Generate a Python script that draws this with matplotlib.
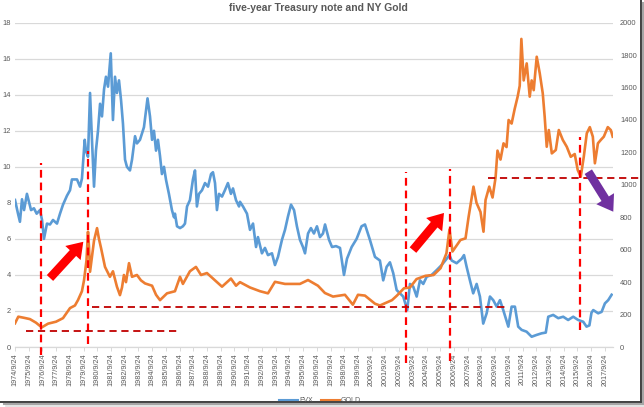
import matplotlib
matplotlib.use("Agg")
import matplotlib.pyplot as plt
from matplotlib.lines import Line2D
from matplotlib.patches import FancyArrowPatch

# ---------------- data ----------------
fvx_year = [1974.73, 1974.95, 1975.09, 1975.24, 1975.39, 1975.60, 1975.75, 1975.90,
            1976.11, 1976.31, 1976.55, 1976.70, 1976.84, 1977.06, 1977.28, 1977.50,
            1977.79, 1978.01, 1978.23, 1978.52, 1978.74, 1978.88, 1979.25, 1979.47,
            1979.61, 1979.81, 1979.90, 1980.05, 1980.20, 1980.34, 1980.49, 1980.63,
            1980.78, 1980.93, 1981.07, 1981.22, 1981.36, 1981.51, 1981.71, 1981.87,
            1982.02, 1982.16, 1982.31, 1982.46, 1982.60, 1982.75, 1982.89, 1983.11,
            1983.26, 1983.48, 1983.62, 1983.84, 1984.13, 1984.39, 1984.57, 1984.72,
            1984.86, 1985.01, 1985.15, 1985.30, 1985.44, 1985.59, 1985.74, 1985.95,
            1986.17, 1986.32, 1986.39, 1986.54, 1986.76, 1986.97, 1987.12, 1987.27,
            1987.48, 1987.70, 1987.85, 1987.99, 1988.14, 1988.36, 1988.58, 1988.80,
            1989.02, 1989.16, 1989.31, 1989.45, 1989.60, 1989.82, 1990.03, 1990.25,
            1990.47, 1990.62, 1990.84, 1991.06, 1991.13, 1991.35, 1991.64, 1991.86,
            1992.08, 1992.30, 1992.44, 1992.73, 1992.95, 1993.17, 1993.46, 1993.68,
            1993.90, 1994.19, 1994.41, 1994.63, 1994.85, 1995.07, 1995.28, 1995.50,
            1995.72, 1995.87, 1996.09, 1996.30, 1996.52, 1996.74, 1996.96, 1997.18,
            1997.33, 1997.62, 1997.84, 1998.13, 1998.42, 1998.71, 1998.93, 1999.27,
            1999.63, 1999.99, 2000.24, 2000.60, 2000.97, 2001.33, 2001.57, 2001.82,
            2002.06, 2002.30, 2002.55, 2002.79, 2003.03, 2003.32, 2003.52, 2003.76,
            2004.01, 2004.25, 2004.49, 2004.74, 2005.10, 2005.47, 2005.83, 2006.20,
            2006.40, 2006.56, 2006.92, 2007.29, 2007.46, 2007.65, 2007.89, 2008.13,
            2008.38, 2008.62, 2008.86, 2009.11, 2009.35, 2009.59, 2009.84, 2010.08,
            2010.32, 2010.69, 2010.93, 2011.17, 2011.41, 2011.66, 2012.02, 2012.39,
            2012.75, 2013.12, 2013.42, 2013.60, 2013.96, 2014.33, 2014.69, 2015.05,
            2015.42, 2015.78, 2016.15, 2016.39, 2016.60, 2016.75, 2016.88, 2017.24,
            2017.49, 2017.73, 2017.97, 2018.22]
fvx_value = [8.16, 7.4, 6.95, 8.2, 7.6, 8.5, 8.06, 7.6,
             7.7, 7.4, 7.6, 7.05, 6.0, 6.85, 6.8, 7.05,
             6.85, 7.4, 7.9, 8.4, 8.7, 9.3, 9.3, 8.9,
             9.35, 11.5, 10.9, 10.56, 14.1, 11.5, 8.9, 10.9,
             12.0, 13.5, 12.8, 14.3, 15.0, 14.45, 16.3, 12.6,
             15.0, 14.1, 14.8, 13.7, 12.4, 10.4, 10.0, 9.8,
             10.4, 11.7, 11.3, 11.5, 12.2, 13.8, 12.8, 11.5,
             12.0, 10.9, 11.5, 10.6, 9.6, 10.0, 9.27, 8.5,
             7.6, 7.2, 7.4, 6.7, 6.6, 6.7, 6.85, 7.8,
             8.15, 9.3, 9.8, 7.8, 8.5, 8.7, 9.1, 8.9,
             9.6, 9.7, 9.1, 7.6, 8.5, 8.35, 8.7, 9.1,
             8.5, 8.8, 8.15, 7.8, 8.06, 7.8, 7.4, 6.5,
             6.85, 5.55, 6.1, 5.2, 5.5, 5.1, 5.2, 4.55,
             5.0, 5.95, 6.5, 7.25, 7.9, 7.6, 6.7, 5.95,
             5.55, 5.2, 6.3, 6.6, 6.3, 6.7, 6.1, 6.3,
             6.8, 5.95, 5.55, 5.6, 5.5, 4.0, 4.9, 5.55,
             6.0, 6.7, 6.8, 5.95, 5.0, 4.8, 3.7, 4.45,
             4.7, 4.1, 3.16, 2.98, 2.8, 2.05, 3.5, 3.35,
             2.8, 3.7, 3.5, 3.9, 4.0, 4.27, 4.55, 4.9,
             5.1, 4.8, 4.65, 4.9, 5.1, 4.45, 3.7, 2.98,
             3.5, 2.8, 1.3, 1.87, 2.8, 2.6, 2.24, 2.6,
             2.05, 1.13, 2.24, 2.24, 1.13, 0.95, 0.85, 0.57,
             0.67, 0.76, 0.8, 1.68, 1.78, 1.6, 1.68, 1.5,
             1.68, 1.5, 1.4, 1.13, 1.2, 1.9, 2.05, 1.87,
             1.95, 2.42, 2.6, 2.9]

gold_year = [1974.73, 1974.97, 1975.39, 1975.82, 1976.26, 1976.68, 1977.14, 1977.72,
             1978.23, 1978.74, 1979.10, 1979.32, 1979.61, 1979.76, 1979.94, 1980.05,
             1980.12, 1980.20, 1980.34, 1980.49, 1980.71, 1980.85, 1981.00, 1981.29,
             1981.65, 1981.87, 1982.16, 1982.38, 1982.53, 1982.67, 1982.82, 1983.04,
             1983.26, 1983.62, 1983.91, 1984.21, 1984.72, 1985.01, 1985.30, 1985.81,
             1986.39, 1986.76, 1986.97, 1987.48, 1987.92, 1988.29, 1988.72, 1989.31,
             1989.82, 1990.18, 1990.47, 1990.84, 1991.13, 1991.86, 1992.59, 1993.17,
             1993.68, 1994.41, 1995.50, 1996.09, 1996.81, 1997.32, 1997.91, 1998.78,
             1999.36, 1999.73, 2000.24, 2000.97, 2001.33, 2002.21, 2002.57, 2003.08,
             2003.52, 2004.00, 2004.65, 2005.24, 2005.75, 2006.18, 2006.40, 2006.62,
             2007.20, 2007.57, 2007.79, 2008.15, 2008.37, 2008.66, 2008.88, 2009.03,
             2009.30, 2009.54, 2009.76, 2009.90, 2010.12, 2010.34, 2010.56, 2010.71,
             2010.93, 2011.15, 2011.37, 2011.52, 2011.64, 2011.81, 2012.03, 2012.25,
             2012.39, 2012.54, 2012.76, 2012.98, 2013.20, 2013.34, 2013.49, 2013.64,
             2013.86, 2014.15, 2014.37, 2014.66, 2014.95, 2015.24, 2015.53, 2015.75,
             2015.97, 2016.19, 2016.41, 2016.63, 2016.85, 2017.00, 2017.22, 2017.43,
             2017.65, 2017.94, 2018.16, 2018.30]
gold_value = [146, 187, 180, 172, 150, 121, 144, 156,
              178, 240, 256, 289, 344, 411, 533, 711,
              622, 464, 556, 656, 733, 667, 611, 494,
              433, 467, 372, 320, 367, 444, 400, 517,
              433, 444, 411, 392, 378, 322, 289, 331,
              344, 433, 389, 467, 494, 444, 456, 411,
              372, 400, 422, 378, 400, 367, 344, 331,
              402, 389, 389, 413, 378, 333, 311, 322,
              261, 322, 317, 267, 256, 289, 317, 362,
              367, 419, 439, 444, 486, 578, 725, 589,
              660, 670, 800, 989, 889, 833, 711, 907,
              989, 922, 1045, 1211, 1156, 1256, 1233, 1400,
              1378, 1467, 1544, 1611, 1900, 1644, 1749, 1544,
              1644, 1584, 1790, 1688, 1564, 1420, 1235, 1338,
              1194, 1215, 1338, 1277, 1235, 1173, 1190, 1091,
              1050, 1173, 1318, 1356, 1297, 1133, 1256, 1277,
              1297, 1356, 1338, 1297]

tick_years = list(range(1974, 2018))
tick_labels = [f"{y}/9/24" for y in tick_years]
series_names = ["FVX", "GOLD"]
title = "five-year Treasury note and NY Gold"

# ---------------- styling ----------------
BLUE = "#5B9BD5"
ORANGE = "#ED7D31"
GRID = "#D9D9D9"
TXT = "#595959"
plt.rcParams["font.family"] = ["Liberation Sans", "DejaVu Sans"]

W, H = 644, 407
fig = plt.figure(figsize=(W / 100, H / 100), dpi=100)
fig.patch.set_facecolor("white")

def fx(px):
    return px / W

def fy(py):
    return 1 - py / H

ax = fig.add_axes([fx(15), fy(347), fx(613) - fx(15), fy(22.7) - fy(347)])
ax2 = ax.twinx()

x0, x1 = 1974.73, 2018.32
ax.set_xlim(x0, x1)
ax.set_ylim(0, 18)
ax2.set_ylim(0, 2000)

ax.set_yticks(range(0, 19, 2))
ax2.set_yticks(range(0, 2001, 200))
ax.yaxis.grid(True, color=GRID, lw=0.9)
ax.set_axisbelow(True)

ax.set_xticks([y + 0.73 for y in tick_years])
ax.set_xticklabels(tick_labels, rotation=90)

for a in (ax, ax2):
    for s in a.spines.values():
        s.set_visible(False)
ax.spines["bottom"].set_visible(True)
ax.spines["bottom"].set_color(GRID)
ax.spines["bottom"].set_linewidth(0.9)
ax.tick_params(axis="x", colors=GRID, length=3, width=0.7, labelcolor=TXT,
               labelsize=5.2, pad=1.5)
ax.tick_params(axis="y", length=0, labelcolor=TXT, labelsize=5.4, pad=3)
ax2.tick_params(axis="y", length=0, labelcolor=TXT, labelsize=5.4, pad=5)

l1, = ax.plot(fvx_year, fvx_value, color=BLUE, lw=1.9, solid_joinstyle="round", zorder=3)
l2, = ax2.plot(gold_year, gold_value, color=ORANGE, lw=1.9, solid_joinstyle="round", zorder=3)

fig.text(fx(318), fy(8), title, ha="center", va="center", fontsize=7.5,
         fontweight="bold", color=TXT)

# ---------------- annotations (drawn on the left-axis scale) ----------------
RED = "#FF0000"
DRED = "#C00000"
vdash = dict(color=RED, lw=1.6, dashes=(3.5, 2.2), clip_on=False, zorder=5)
hdash = dict(color=DRED, lw=1.3, dashes=(4.0, 2.6), clip_on=False, zorder=5)
axa = fig.add_axes(ax.get_position(), facecolor="none")
axa.set_xlim(x0, x1)
axa.set_ylim(0, 18)
axa.axis("off")

for xv, ya, yb in [(1976.63, -0.45, 10.2), (1980.03, 0.15, 10.9),
                   (2003.23, -0.9, 9.73), (2006.44, -0.8, 9.86),
                   (2015.91, 0.94, 11.67)]:
    axa.plot([xv, xv], [ya, yb], **vdash)
for yv, xa, xb in [(0.88, 1975.53, 1986.76), (2.24, 1980.32, 2010.66),
                   (9.36, 2009.20, 2020.35)]:
    axa.plot([xa, xb], [yv, yv], **hdash)

style = "simple,head_length=1.1,head_width=1.5,tail_width=0.62"
for (xa, ya), (xb, yb), c in [((1977.28, 3.83), (1979.71, 5.84), RED),
                              ((2003.74, 5.38), (2006.00, 7.44), RED),
                              ((2016.52, 9.73), (2018.34, 7.51), "#7030A0")]:
    arr = FancyArrowPatch((xa, ya), (xb, yb), arrowstyle=style, mutation_scale=10,
                          color=c, lw=0, shrinkA=0, shrinkB=0, clip_on=False, zorder=6)
    axa.add_patch(arr)

# ---------------- legend ----------------
h1 = Line2D([], [], color=BLUE, lw=1.5)
h2 = Line2D([], [], color=ORANGE, lw=1.5)
fig.legend([h1, h2], series_names, loc="center", bbox_to_anchor=(fx(320), fy(400.5)),
           ncol=2, frameon=False, fontsize=5, handlelength=2.7, handletextpad=0.15,
           columnspacing=1.2, labelcolor=TXT, borderpad=0)

# ---------------- screenshot frame ----------------
fig.add_artist(Line2D([fx(0), fx(641)], [fy(402), fy(402)], color="#3F3F3F", lw=1.4))
fig.add_artist(Line2D([fx(641), fx(641)], [fy(0), fy(402)], color="#3F3F3F", lw=1.4))
fig.add_artist(Line2D([fx(4), fx(642.5)], [fy(404), fy(404)], color="#A6A6A6", lw=1.5))
fig.add_artist(Line2D([fx(642.5), fx(642.5)], [fy(3), fy(404)], color="#A6A6A6", lw=1.5))
fig.add_artist(Line2D([fx(6), fx(644)], [fy(405.8), fy(405.8)], color="#E0E0E0", lw=1.2))

fig.savefig("out.png", dpi=100)
